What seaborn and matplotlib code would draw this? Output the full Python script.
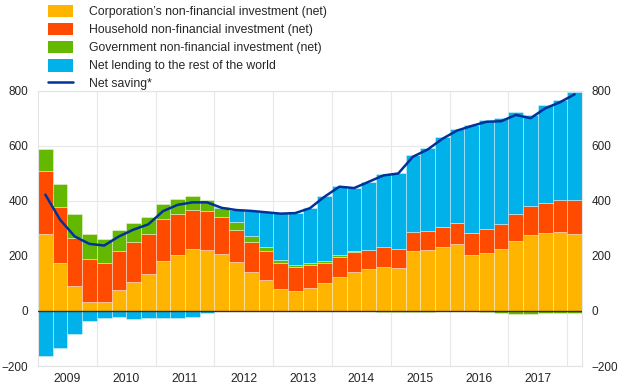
import numpy as np
import pandas as pd
import matplotlib
matplotlib.use("Agg")
import matplotlib.pyplot as plt
from matplotlib.patches import Patch
from matplotlib.lines import Line2D
import seaborn as sns

# quarterly data, 2009 Q1 - 2018 Q1 (EUR billions)
years = ["2009", "2010", "2011", "2012", "2013", "2014", "2015", "2016", "2017"]
corporations = [280, 176, 92, 33, 31, 77, 106, 136, 183, 205, 227, 223, 209, 177, 143, 114,
                81, 74, 85, 101, 124, 140, 152, 161, 157, 219, 221, 233, 245, 202, 211, 224,
                253, 278, 282, 286, 281]
households = [229, 201, 172, 155, 145, 140, 144, 143, 151, 148, 142, 140, 131, 118, 108, 104,
              93, 86, 83, 73, 74, 76, 71, 72, 67, 67, 69, 71, 74, 80, 88, 91,
              100, 102, 111, 116, 121]
government = [80, 86, 87, 91, 87, 79, 70, 64, 56, 54, 50, 39, 35, 29, 23, 15,
              11, 8, 7, 6, 7, 2, 0, -4, -4, -3, -2, 0, 0, 0, -3, -8,
              -10, -10, -8, -6, -6]
net_lending = [-165, -134, -82, -37, -27, -21, -28, -27, -25, -25, -21, -7, 2, 44, 91, 127,
               170, 189, 199, 237, 248, 230, 247, 264, 279, 282, 302, 327, 342, 395, 396, 386,
               370, 332, 355, 364, 393]
net_saving = [423, 332, 271, 244, 238, 271, 296, 315, 363, 386, 395, 395, 375, 367, 364, 359,
              354, 356, 374, 416, 452, 447, 470, 493, 500, 561, 587, 626, 656, 673, 688, 690,
              713, 701, 737, 759, 788]

colors = ["#FFB400", "#FF4B00", "#65B800", "#00B1EA"]
line_color = "#003299"
labels = ["Corporation\u2019s non-financial investment (net)",
          "Household non-financial investment (net)",
          "Government non-financial investment (net)",
          "Net lending to the rest of the world",
          "Net saving*"]

n = len(corporations)
pos = np.arange(n)
df = pd.DataFrame({"q": pos, "corp": corporations, "hh": households,
                   "gov": government, "nl": net_lending, "ns": net_saving})

sns.set_style("white")
plt.rcParams["font.family"] = ["Liberation Sans", "DejaVu Sans"]

fig = plt.figure(figsize=(6.2, 3.88), dpi=100)
ax = fig.add_axes([0.0613, 0.0567, 0.8774, 0.7088])

# stack positives upward, negatives downward
up = np.zeros(n)
down = np.zeros(n)
for col, c in zip(["corp", "hh", "gov", "nl"], colors):
    vals = df[col].to_numpy(dtype=float)
    base = np.where(vals >= 0, up, down)
    sns.barplot(x=pos, y=vals, bottom=base, color=c, width=1, native_scale=True,
                edgecolor=(1, 1, 1, 0.45), linewidth=0.6, saturation=1, ax=ax)
    up = np.where(vals >= 0, up + vals, up)
    down = np.where(vals < 0, down + vals, down)

ax.axhline(0, color="#333333", lw=1, zorder=3)
sns.lineplot(data=df, x="q", y="ns", color=line_color, lw=1.8, ax=ax, zorder=4)

ax.set_xlim(-0.5, n - 0.5)
ax.set_ylim(-200, 800)
ax.set_yticks(np.arange(-200, 801, 200))
ax.yaxis.grid(True, color="#e8e8e8", lw=0.8)
ax.set_axisbelow(True)
for k in range(1, len(years) + 1):
    ax.axvline(4 * k - 0.5, color="#e8e8e8", lw=0.8, zorder=0)

ax.set_xticks(np.arange(len(years)) * 4 + 1.5)
ax.set_xticklabels(years)
ax.set_xticks(np.arange(-0.5, n, 1), minor=True)
ax.tick_params(axis="x", which="major", length=0, labelsize=8.8, pad=5)
ax.tick_params(axis="x", which="minor", length=3, color="#dddddd", width=0.8)
ax.tick_params(axis="y", length=0, labelsize=8.5, labelright=True, pad=7)
ax.set_xlabel("")
ax.set_ylabel("")
for s in ax.spines.values():
    s.set_color("#e3e3e3")
    s.set_linewidth(0.8)

handles = [Patch(facecolor=c, edgecolor="none") for c in colors]
handles.append(Line2D([0], [0], color=line_color, lw=1.8))
fig.legend(handles, labels, loc="upper left", bbox_to_anchor=(0.07, 1.0),
           frameon=False, fontsize=8.8, handlelength=2.0, handleheight=1.2,
           handletextpad=1.3, labelspacing=0.38, borderaxespad=0)

fig.savefig("out.png", dpi=100)
